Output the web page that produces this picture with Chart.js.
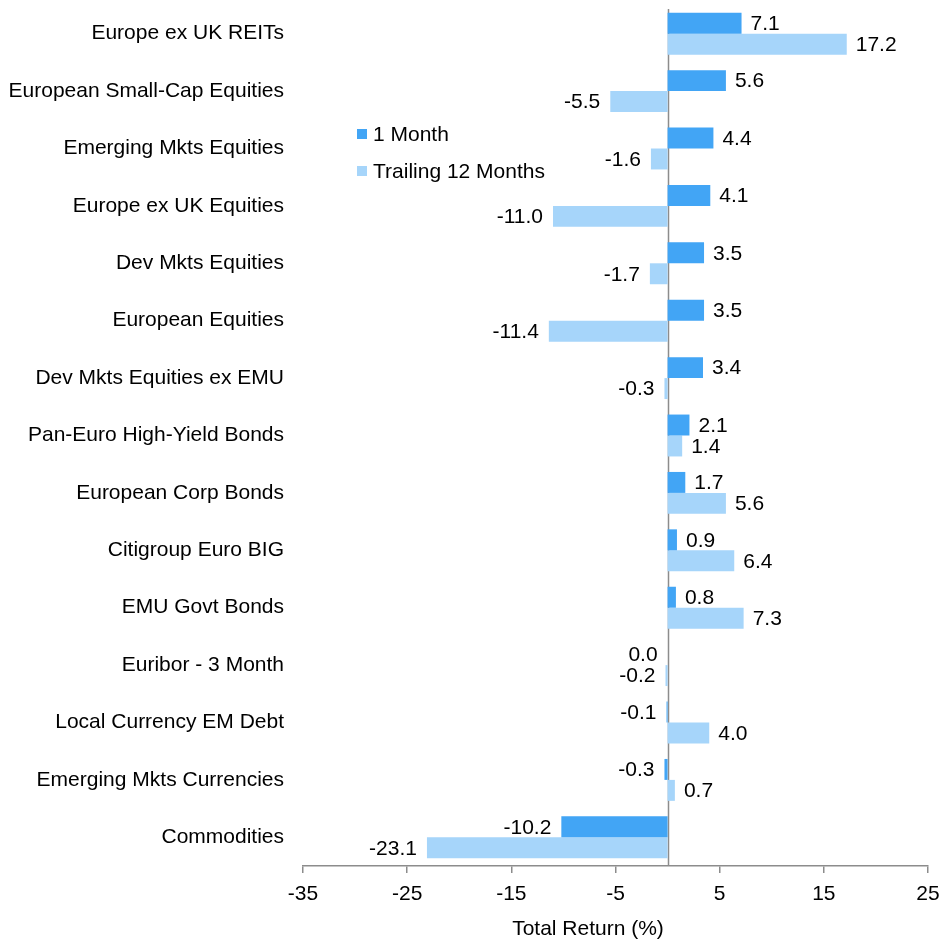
<!DOCTYPE html>
<html>
<head>
  <meta charset="utf-8">
  <title>Total Return</title>
  <script src="https://cdn.jsdelivr.net/npm/chart.js@4.4.1/dist/chart.umd.min.js"></script>
  <style>
    html, body { margin: 0; padding: 0; background: #fff; }
    #wrap { width: 940px; height: 942px; }
  </style>
</head>
<body>
<div id="wrap"><canvas id="myChart" width="940" height="942"></canvas></div>
<script>
var categories = [
  "Europe ex UK REITs", "European Small-Cap Equities", "Emerging Mkts Equities",
  "Europe ex UK Equities", "Dev Mkts Equities", "European Equities",
  "Dev Mkts Equities ex EMU", "Pan-Euro High-Yield Bonds", "European Corp Bonds",
  "Citigroup Euro BIG", "EMU Govt Bonds", "Euribor - 3 Month",
  "Local Currency EM Debt", "Emerging Mkts Currencies", "Commodities"
];
var oneMonth = [7.1, 5.6, 4.4, 4.1, 3.5, 3.5, 3.4, 2.1, 1.7, 0.9, 0.8, 0.0, -0.1, -0.3, -10.2];
var trailing12 = [17.2, -5.5, -1.6, -11.0, -1.7, -11.4, -0.3, 1.4, 5.6, 6.4, 7.3, -0.2, 4.0, 0.7, -23.1];
var seriesNames = ["1 Month", "Trailing 12 Months"];
var xTicks = [-35, -25, -15, -5, 5, 15, 25];

var dark = "#42a5f5";
var light = "#a6d5fa";
var axisGray = "#8c8c8c";
var font = "Liberation Sans, Arial, sans-serif";
var fs = 21;

// zero line, value labels, legend and axis title
var extras = {
  id: "extras",
  beforeDatasetsDraw: function(chart) {
    var c = chart.ctx, x = chart.scales.x, a = chart.chartArea;
    var zx = Math.round(x.getPixelForValue(0)) + 0.5;
    c.save();
    c.strokeStyle = axisGray;
    c.lineWidth = 1.5;
    c.beginPath(); c.moveTo(zx, a.top + 4); c.lineTo(zx, a.bottom); c.stroke();
    c.restore();
  },
  afterDatasetsDraw: function(chart) {
    var c = chart.ctx, a = chart.chartArea;
    c.save();
    c.font = fs + "px " + font;
    c.fillStyle = "#000";
    c.textBaseline = "middle";
    chart.data.datasets.forEach(function(ds, i) {
      chart.getDatasetMeta(i).data.forEach(function(el, j) {
        var v = ds.data[j];
        if (v > 0) { c.textAlign = "left"; c.fillText(v.toFixed(1), el.x + 9, el.y + 1); }
        else { c.textAlign = "right"; c.fillText(v.toFixed(1), el.x - 10, el.y + 1); }
      });
    });
    // legend
    var lx = a.left + 54, ly = [134, 171];
    [dark, light].forEach(function(col, i) {
      c.fillStyle = col;
      c.fillRect(lx, ly[i] - 5, 10, 10);
      c.fillStyle = "#000";
      c.textAlign = "left";
      c.fillText(seriesNames[i], lx + 16, ly[i] + 1);
    });
    // axis title
    c.textAlign = "center";
    c.fillText("Total Return (%)", a.left + 285, 929);
    c.restore();
  }
};

var ctx = document.getElementById("myChart").getContext("2d");
var myChart = new Chart(ctx, {
  type: "bar",
  data: {
    labels: categories,
    datasets: [
      { label: seriesNames[0], data: oneMonth, backgroundColor: dark, borderWidth: 0,
        barPercentage: 1, categoryPercentage: 0.73 },
      { label: seriesNames[1], data: trailing12, backgroundColor: light, borderWidth: 0,
        barPercentage: 1, categoryPercentage: 0.73 }
    ]
  },
  options: {
    indexAxis: "y",
    responsive: false,
    animation: false,
    layout: { padding: { left: 0, right: 12, top: 5, bottom: 0 } },
    plugins: { legend: { display: false }, tooltip: { enabled: false } },
    scales: {
      x: {
        min: -35, max: 25,
        afterBuildTicks: function(s) { s.ticks = xTicks.map(function(v) { return { value: v }; }); },
        afterFit: function(s) { s.height = 76; s.paddingLeft = 0; s.paddingRight = 0; },
        grid: { display: true, drawOnChartArea: false, tickLength: 7, color: axisGray, lineWidth: 1.5 },
        border: { display: true, color: axisGray, width: 1.5 },
        ticks: { color: "#000", font: { family: font, size: fs }, padding: 9, maxRotation: 0 }
      },
      y: {
        afterFit: function(s) { s.width = 303; s.paddingTop = 0; s.paddingBottom = 0; },
        grid: { display: false },
        border: { display: false },
        ticks: { color: "#000", font: { family: font, size: fs }, padding: 11, autoSkip: false }
      }
    }
  },
  plugins: [extras]
});
</script>
</body>
</html>
